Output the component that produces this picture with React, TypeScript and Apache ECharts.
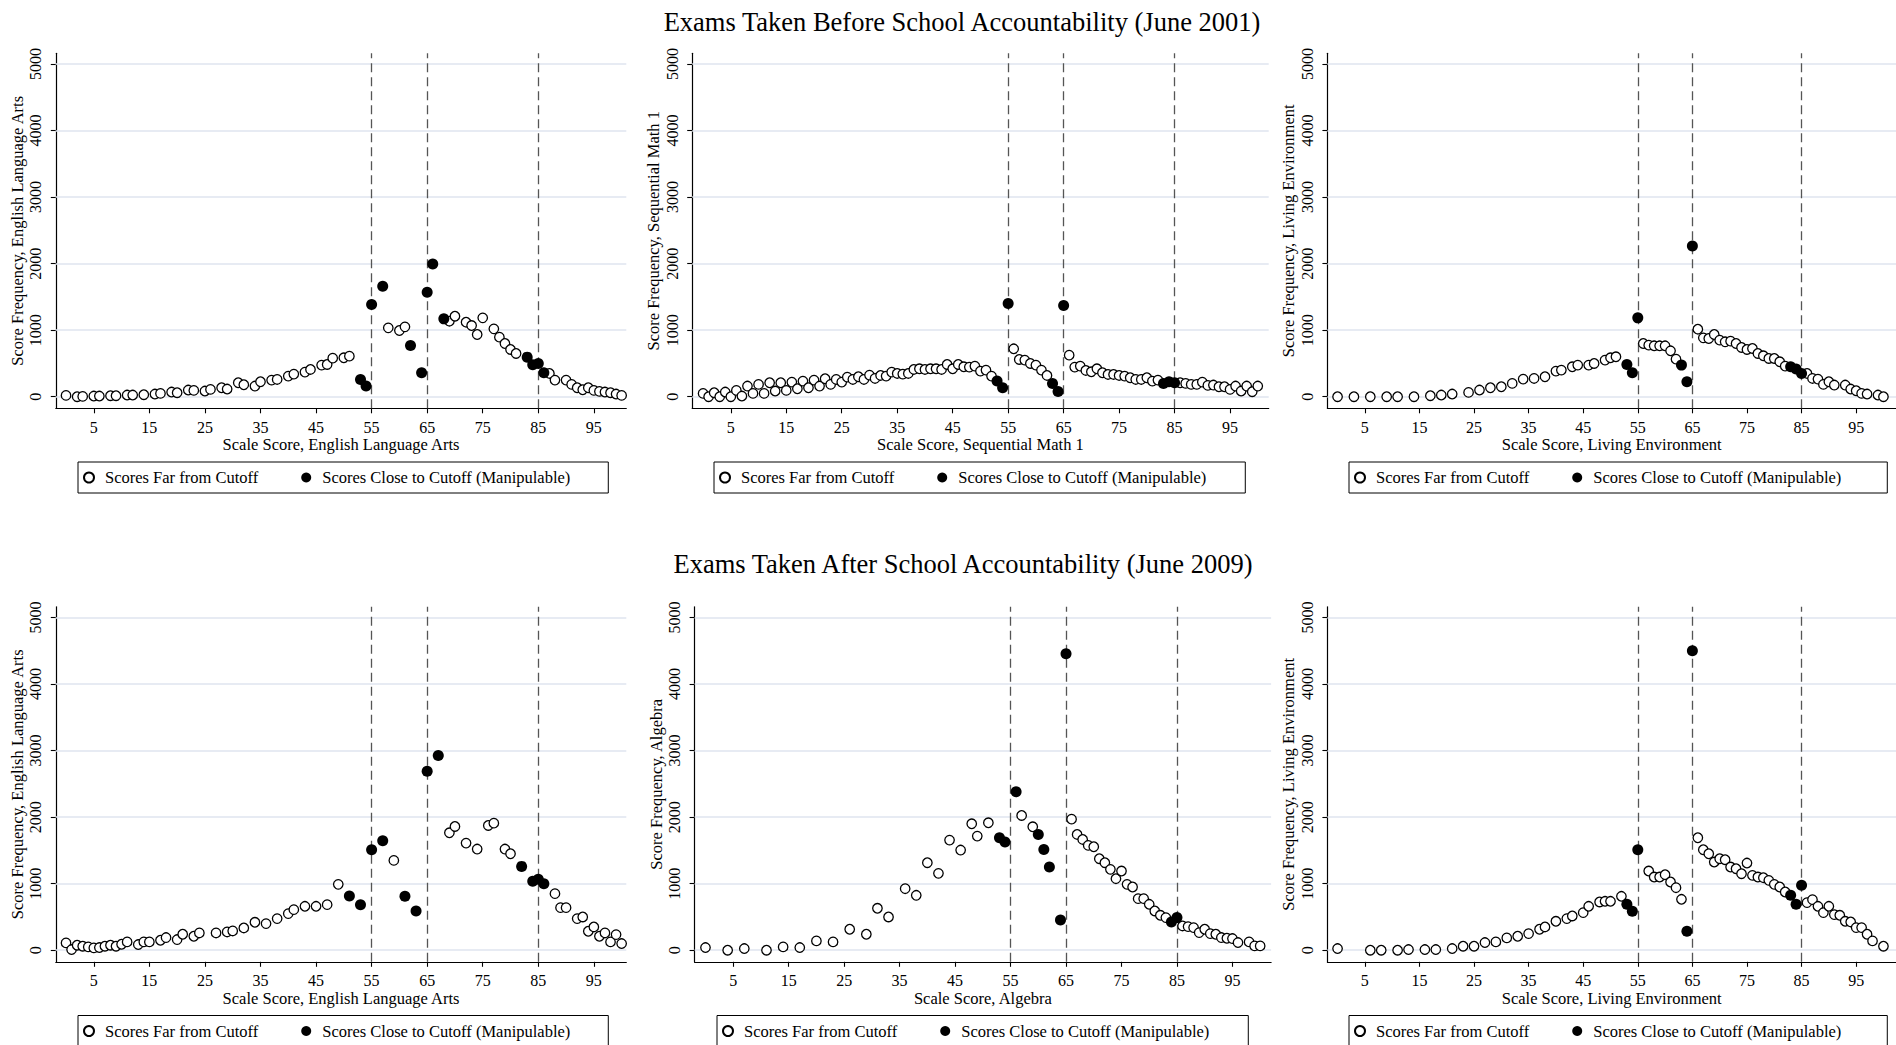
import React, { useEffect, useRef } from "react";
import * as echarts from "echarts";

// ---------- labels ----------
const rowTitles = [
  "Exams Taken Before School Accountability (June 2001)",
  "Exams Taken After School Accountability (June 2009)",
];
const xNames = [
  "Scale Score, English Language Arts",
  "Scale Score, Sequential Math 1",
  "Scale Score, Living Environment",
  "Scale Score, English Language Arts",
  "Scale Score, Algebra",
  "Scale Score, Living Environment",
];
const yNames = [
  "Score Frequency, English Language Arts",
  "Score Frequency, Sequential Math 1",
  "Score Frequency, Living Environment",
  "Score Frequency, English Language Arts",
  "Score Frequency, Algebra",
  "Score Frequency, Living Environment",
];
const xTicks = [5, 15, 25, 35, 45, 55, 65, 75, 85, 95];
const yTicks = [0, 1000, 2000, 3000, 4000, 5000];
const cutoffs = [55, 65, 85];
const FAR = "Scores Far from Cutoff";
const CLOSE = "Scores Close to Cutoff (Manipulable)";

// ---------- data: [scale score, frequency] ----------
const ela2001Far = [[0,20],[2,0],[3,5],[5,10],[6,10],[8,15],[9,15],[11,25],[12,25],[14,30],[16,40],[17,50],[19,70],[20,60],[22,100],[23,95],[25,85],[26,110],[28,135],[29,115],[31,210],[32,180],[34,160],[35,225],[37,250],[38,260],[40,310],[41,340],[43,370],[44,410],[46,475],[47,485],[48,580],[50,585],[51,610],[58,1035],[60,995],[61,1050],[69,1135],[70,1210],[72,1120],[73,1070],[74,935],[75,1185],[77,1020],[78,895],[79,800],[80,710],[81,650],[87,350],[88,250],[90,250],[91,185],[92,135],[93,105],[94,135],[95,95],[96,80],[97,70],[98,60],[99,40],[100,20]];
const ela2001Close = [[53,260],[54,160],[55,1385],[57,1660],[62,770],[64,360],[65,1570],[66,1995],[68,1170],[83,595],[84,480],[85,500],[86,360]];

const math2001Far = [[0,50],[1,0],[2,60],[3,0],[4,70],[5,0],[6,95],[7,10],[8,160],[9,50],[10,185],[11,50],[12,210],[13,85],[14,210],[15,95],[16,220],[17,120],[18,235],[19,135],[20,250],[21,160],[22,270],[23,185],[24,260],[25,220],[26,295],[27,260],[28,300],[29,260],[30,325],[31,275],[32,320],[33,310],[34,370],[35,350],[36,340],[37,350],[38,410],[39,420],[40,410],[41,420],[42,420],[43,410],[44,485],[45,420],[46,485],[47,450],[48,445],[49,460],[50,385],[51,400],[52,310],[56,720],[57,560],[58,550],[59,500],[60,475],[61,400],[62,320],[66,625],[67,445],[68,460],[69,395],[70,375],[71,420],[72,360],[73,335],[74,335],[75,320],[76,310],[77,285],[78,260],[79,260],[80,285],[81,235],[82,250],[86,210],[87,200],[88,185],[89,185],[90,220],[91,170],[92,175],[93,150],[94,150],[95,110],[96,160],[97,85],[98,160],[99,75],[100,160]];
const math2001Close = [[53,235],[54,135],[55,1400],[63,200],[64,80],[65,1370],[83,200],[84,225],[85,210]];

const living2001Far = [[0,0],[3,0],[6,0],[9,0],[11,0],[14,0],[17,15],[19,25],[21,40],[24,65],[26,100],[28,135],[30,150],[32,200],[34,265],[36,275],[38,300],[40,385],[41,400],[43,450],[44,475],[46,475],[47,500],[49,550],[50,585],[51,600],[56,800],[57,775],[58,765],[59,765],[60,765],[61,690],[62,565],[66,1015],[67,885],[68,875],[69,935],[70,850],[71,825],[72,835],[73,800],[74,740],[75,710],[76,725],[77,650],[78,615],[79,575],[80,575],[81,525],[82,460],[86,350],[87,275],[88,265],[89,185],[90,225],[91,175],[93,175],[94,115],[95,90],[96,50],[97,40],[99,25],[100,0]];
const living2001Close = [[53,485],[54,360],[55,1185],[63,475],[64,225],[65,2265],[83,450],[84,415],[85,350]];

const ela2009Far = [[0,110],[1,10],[2,75],[3,60],[4,50],[5,35],[6,40],[7,60],[8,75],[9,60],[10,90],[11,125],[13,85],[14,125],[15,125],[17,150],[18,190],[20,160],[21,240],[23,210],[24,260],[27,260],[29,275],[30,290],[32,335],[34,420],[36,400],[38,475],[40,550],[41,610],[43,660],[45,660],[47,685],[49,990],[59,1350],[69,1765],[70,1860],[72,1610],[74,1520],[76,1875],[77,1910],[79,1520],[80,1450],[88,850],[89,640],[90,640],[92,475],[93,500],[94,285],[95,350],[96,210],[97,260],[98,125],[99,235],[100,100]];
const ela2009Close = [[51,815],[53,685],[55,1510],[57,1645],[61,810],[63,590],[65,2690],[67,2925],[82,1260],[84,1035],[85,1065],[86,1000]];

const algebra2009Far = [[0,40],[4,0],[7,25],[11,0],[14,50],[17,40],[20,140],[23,125],[26,315],[29,240],[31,630],[33,500],[36,925],[38,825],[40,1315],[42,1155],[44,1655],[46,1505],[48,1900],[49,1715],[51,1915],[57,2025],[59,1855],[66,1970],[67,1740],[68,1665],[69,1575],[70,1555],[71,1375],[72,1315],[73,1215],[74,1075],[75,1190],[76,990],[77,950],[78,775],[79,775],[80,690],[81,590],[82,525],[83,490],[86,365],[87,355],[88,340],[89,265],[90,315],[91,250],[92,240],[93,190],[94,180],[95,175],[96,115],[98,125],[99,65],[100,65]];
const algebra2009Close = [[53,1690],[54,1625],[56,2380],[60,1740],[61,1515],[62,1250],[64,455],[65,4455],[84,425],[85,490]];

const living2009Far = [[0,25],[6,0],[8,0],[11,0],[13,10],[16,10],[18,10],[21,25],[23,60],[25,60],[27,115],[29,125],[31,185],[33,210],[35,250],[37,315],[38,350],[40,435],[42,475],[43,515],[45,565],[46,660],[48,725],[49,735],[50,735],[52,810],[57,1190],[58,1100],[59,1100],[60,1135],[61,1025],[62,940],[63,765],[66,1690],[67,1510],[68,1450],[69,1325],[70,1375],[71,1360],[72,1250],[73,1225],[74,1150],[75,1310],[76,1125],[77,1100],[78,1090],[79,1050],[80,990],[81,950],[82,875],[86,715],[87,760],[88,660],[89,565],[90,660],[91,535],[92,525],[93,435],[94,425],[95,340],[96,340],[97,240],[98,140],[100,60]];
const living2009Close = [[53,690],[54,585],[55,1510],[64,285],[65,4500],[83,825],[84,690],[85,975]];

const farSets = [ela2001Far, math2001Far, living2001Far, ela2009Far, algebra2009Far, living2009Far];
const closeSets = [ela2001Close, math2001Close, living2001Close, ela2009Close, algebra2009Close, living2009Close];

// ---------- layout ----------
const ROW2 = 553.5;
const layout = [
  { left: 55.8, top: 53.3, width: 570.5, xMin: -1.84, xMax: 100.84, legLeft: 78, legTop: 462, legPadR: 38 },
  { left: 692.2, top: 53.3, width: 576.5, xMin: -1.96, xMax: 101.97, legLeft: 714, legTop: 462, legPadR: 39 },
  { left: 1327.4, top: 53.3, width: 577, xMin: -1.86, xMax: 102.3, legLeft: 1349, legTop: 462, legPadR: 46 },
  { left: 55.8, top: 53.3 + ROW2, width: 570.5, xMin: -1.84, xMax: 100.84, legLeft: 78, legTop: 462 + ROW2, legPadR: 38 },
  { left: 694.6, top: 53.3 + ROW2, width: 576.5, xMin: -1.96, xMax: 101.97, legLeft: 717, legTop: 462 + ROW2, legPadR: 39 },
  { left: 1327.4, top: 53.3 + ROW2, width: 577, xMin: -1.86, xMax: 102.3, legLeft: 1349, legTop: 462 + ROW2, legPadR: 46 },
];
const GRID_H = 355;
const Y_MIN = -174;
const Y_MAX = 5161;

const FONT = "Liberation Serif";

function buildOption() {
  const grid = layout.map((l) => ({ left: l.left, top: l.top, width: l.width, height: GRID_H, containLabel: false }));
  const xAxis = layout.map((l, i) => ({
    gridIndex: i,
    type: "value",
    min: l.xMin,
    max: l.xMax,
    name: xNames[i],
    nameLocation: "middle",
    nameGap: 28,
    nameTextStyle: { fontFamily: FONT, fontSize: 16.5, color: "#000" },
    axisLine: { show: true, onZero: false, lineStyle: { color: "#000", width: 1.2 } },
    axisTick: { show: true, customValues: xTicks, length: 5, lineStyle: { color: "#000", width: 1.1 } },
    axisLabel: { customValues: xTicks, margin: 11, fontFamily: FONT, fontSize: 16, color: "#000", formatter: (v: number) => String(v) },
    splitLine: { show: false },
  }));
  const yAxis = layout.map((l, i) => ({
    gridIndex: i,
    type: "value",
    min: Y_MIN,
    max: Y_MAX,
    name: yNames[i],
    nameLocation: "middle",
    nameRotate: 90,
    nameGap: 30,
    nameTextStyle: { fontFamily: FONT, fontSize: 16.5, color: "#000" },
    axisLine: { show: true, onZero: false, lineStyle: { color: "#000", width: 1.2 } },
    axisTick: { show: true, customValues: yTicks, length: 5, lineStyle: { color: "#000", width: 1.1 } },
    axisLabel: { customValues: yTicks, rotate: 90, margin: 12, fontFamily: FONT, fontSize: 16, color: "#000", formatter: (v: number) => String(v) },
    splitLine: { show: false },
  }));
  const series: any[] = [];
  layout.forEach((l, i) => {
    series.push({
      type: "line",
      xAxisIndex: i,
      yAxisIndex: i,
      data: [],
      silent: true,
      z: 1,
      markLine: {
        silent: true,
        z: 1,
        symbol: "none",
        label: { show: false },
        lineStyle: { color: "#dfe4ef", width: 1.5, type: "solid" },
        data: yTicks.map((v) => ({ yAxis: v })),
      },
    });
    series.push({
      type: "line",
      xAxisIndex: i,
      yAxisIndex: i,
      data: [],
      silent: true,
      z: 2,
      markLine: {
        silent: true,
        z: 2,
        symbol: "none",
        label: { show: false },
        lineStyle: { color: "#555", width: 1.3, type: [9, 5] },
        data: cutoffs.map((v) => ({ xAxis: v })),
      },
    });
    series.push({
      type: "scatter",
      name: FAR,
      xAxisIndex: i,
      yAxisIndex: i,
      data: farSets[i],
      symbol: "circle",
      symbolSize: 9.5,
      itemStyle: { color: "#fff", borderColor: "#000", borderWidth: 1.3, opacity: 1 },
      z: 3,
    });
    series.push({
      type: "scatter",
      name: CLOSE,
      xAxisIndex: i,
      yAxisIndex: i,
      data: closeSets[i],
      symbol: "circle",
      symbolSize: 11,
      itemStyle: { color: "#000", opacity: 1 },
      z: 4,
    });
  });
  const legend = layout.map((l) => ({
    left: l.legLeft,
    top: l.legTop,
    orient: "horizontal",
    data: [FAR, CLOSE],
    itemWidth: 10,
    itemHeight: 10,
    itemGap: 43,
    padding: [6, l.legPadR, 6, 5],
    borderColor: "#000",
    borderWidth: 1,
    backgroundColor: "#fff",
    selectedMode: false,
    textStyle: { fontFamily: FONT, fontSize: 16.5, color: "#000", lineHeight: 19, padding: [0, 0, 0, 6] },
  }));
  const graphic = [
    {
      type: "text",
      x: 962,
      y: 22,
      style: { text: rowTitles[0], fontFamily: FONT, fontSize: 26.5, fill: "#000", textAlign: "center", textVerticalAlign: "middle" },
    },
    {
      type: "text",
      x: 963,
      y: 563.5,
      style: { text: rowTitles[1], fontFamily: FONT, fontSize: 26.5, fill: "#000", textAlign: "center", textVerticalAlign: "middle" },
    },
  ];
  return {
    animation: false,
    backgroundColor: "#fff",
    grid,
    xAxis,
    yAxis,
    series,
    legend,
    graphic,
  };
}

export default function App() {
  const ref = useRef<HTMLDivElement>(null);
  useEffect(() => {
    if (!ref.current) return;
    const chart = echarts.init(ref.current, undefined, { renderer: "svg" });
    chart.setOption(buildOption() as any);
    return () => chart.dispose();
  }, []);
  return (
    <div
      ref={ref}
      style={{ position: "fixed", left: 0, top: 0, width: 1896, height: 1045, background: "#fff" }}
    />
  );
}
